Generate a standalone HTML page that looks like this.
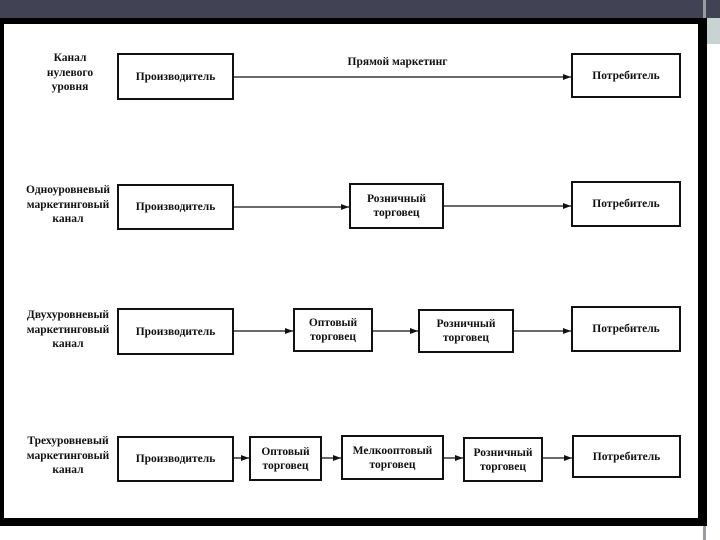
<!DOCTYPE html>
<html><head><meta charset="utf-8"><style>
body{margin:0;width:720px;height:540px;background:#fff;position:relative;overflow:hidden;font-family:"Liberation Serif","DejaVu Serif",serif;}
.bar{position:absolute;left:0;top:0;width:720px;height:18px;background:#414354;}
.frame{position:absolute;left:0;top:18px;width:694px;height:494px;border-style:solid;border-color:#000;border-width:6px 9px 8px 4px;box-sizing:content-box;background:#fff;}
.strip{position:absolute;left:705px;top:18px;width:15px;height:26px;background:#c9d3d3;}
.strip2{position:absolute;left:703px;top:0;width:3px;height:540px;background:#9a9aa0;}
.b{position:absolute;border:2px solid #111;box-sizing:border-box;display:flex;align-items:center;justify-content:center;text-align:center;font-size:11.5px;font-weight:bold;line-height:14px;color:#111;}
.l{position:absolute;text-align:center;font-size:11.5px;font-weight:bold;line-height:14.5px;color:#111;width:110px;}
</style></head><body>
<div class="bar"></div>
<div class="strip2"></div>
<div class="strip"></div>
<div class="frame"></div>

<div class="l" style="left:15px;top:51px">Канал<br>нулевого<br>уровня</div>
<div class="l" style="left:13px;top:183px">Одноуровневый<br>маркетинговый<br>канал</div>
<div class="l" style="left:13px;top:308px">Двухуровневый<br>маркетинговый<br>канал</div>
<div class="l" style="left:13px;top:434px">Трехуровневый<br>маркетинговый<br>канал</div>

<div class="l" style="left:340px;top:55px;width:115px">Прямой маркетинг</div>

<svg style="position:absolute;left:0;top:0" width="720" height="540">
<defs><marker id="a" markerWidth="8" markerHeight="6" refX="8" refY="3" orient="auto" markerUnits="userSpaceOnUse"><path d="M0,0L8,3L0,6z" fill="#111"/></marker></defs>
<g stroke="#111" stroke-width="1.3" marker-end="url(#a)">
<line x1="234" y1="77" x2="571" y2="77"/>
<line x1="234" y1="207" x2="349" y2="207"/>
<line x1="444" y1="206" x2="571" y2="206"/>
<line x1="234" y1="331" x2="293" y2="331"/>
<line x1="373" y1="331" x2="418" y2="331"/>
<line x1="514" y1="331" x2="571" y2="331"/>
<line x1="234" y1="458" x2="249" y2="458"/>
<line x1="322" y1="458" x2="341" y2="458"/>
<line x1="444" y1="458" x2="463" y2="458"/>
<line x1="543" y1="458" x2="572" y2="458"/>
</g></svg>

<div class="b" style="left:117px;top:53px;width:117px;height:47px">Производитель</div>
<div class="b" style="left:571px;top:53px;width:110px;height:45px">Потребитель</div>

<div class="b" style="left:117px;top:184px;width:117px;height:46px">Производитель</div>
<div class="b" style="left:349px;top:183px;width:95px;height:46px">Розничный<br>торговец</div>
<div class="b" style="left:571px;top:181px;width:110px;height:46px">Потребитель</div>

<div class="b" style="left:117px;top:308px;width:117px;height:47px">Производитель</div>
<div class="b" style="left:293px;top:308px;width:80px;height:44px">Оптовый<br>торговец</div>
<div class="b" style="left:418px;top:309px;width:96px;height:44px">Розничный<br>торговец</div>
<div class="b" style="left:571px;top:306px;width:110px;height:46px">Потребитель</div>

<div class="b" style="left:117px;top:436px;width:117px;height:46px">Производитель</div>
<div class="b" style="left:249px;top:436px;width:73px;height:45px">Оптовый<br>торговец</div>
<div class="b" style="left:341px;top:435px;width:103px;height:45px">Мелкооптовый<br>торговец</div>
<div class="b" style="left:463px;top:437px;width:80px;height:45px">Розничный<br>торговец</div>
<div class="b" style="left:572px;top:435px;width:109px;height:43px">Потребитель</div>
</body></html>
